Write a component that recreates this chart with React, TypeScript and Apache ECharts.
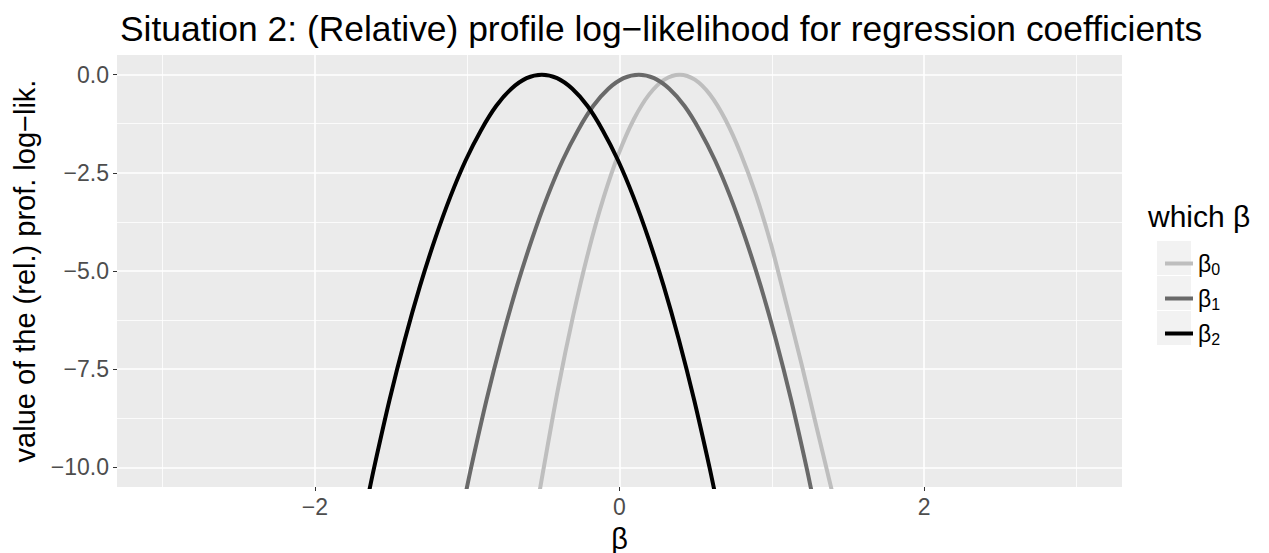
import React, { useEffect, useRef } from 'react';
import * as echarts from 'echarts';

// ---- data ----
const seriesNames = ['β0', 'β1', 'β2'];
const seriesColors = ['#BEBEBE', '#696969', '#000000'];

// β0 profile (light grey)
const beta0X = [-0.535, -0.505, -0.405, -0.305, -0.205, -0.105, -0.005, 0.095, 0.195, 0.295, 0.395, 0.495, 0.595, 0.695, 0.795, 0.895, 0.995, 1.095, 1.195, 1.295, 1.395];
const beta0Y = [-10.85, -10.17, -8.03, -6.15, -4.52, -3.14, -2.01, -1.13, -0.502, -0.126, 0, -0.128, -0.512, -1.143, -2.0, -3.05, -4.32, -5.83, -7.36, -8.99, -10.6];

// β1 profile (dark grey)
const beta1X = [-1.013, -0.973, -0.873, -0.773, -0.673, -0.573, -0.473, -0.373, -0.273, -0.173, -0.073, 0.027, 0.127, 0.227, 0.327, 0.427, 0.527, 0.627, 0.727, 0.827, 0.927, 1.027, 1.127, 1.227, 1.267];
const beta1Y = [-10.72, -9.98, -8.28, -6.75, -5.38, -4.17, -3.10, -2.18, -1.42, -0.80, -0.36, -0.09, 0, -0.09, -0.36, -0.80, -1.42, -2.18, -3.10, -4.17, -5.38, -6.75, -8.28, -9.98, -10.72];

// β2 profile (black)
const beta2X = [-1.65, -1.61, -1.51, -1.41, -1.31, -1.21, -1.11, -1.01, -0.91, -0.81, -0.71, -0.61, -0.51, -0.41, -0.31, -0.21, -0.11, -0.01, 0.09, 0.19, 0.29, 0.39, 0.49, 0.59, 0.63];
const beta2Y = [-10.72, -9.98, -8.28, -6.75, -5.38, -4.17, -3.10, -2.18, -1.42, -0.80, -0.36, -0.09, 0, -0.09, -0.36, -0.80, -1.42, -2.18, -3.10, -4.17, -5.38, -6.75, -8.28, -9.98, -10.72];

const xMajorTicks = [-2, 0, 2];
const xMinorTicks = [-3, -1, 1, 3];
const yMajorTicks = [-10, -7.5, -5, -2.5, 0];
const yMinorTicks = [-8.75, -6.25, -3.75, -1.25];

const titleText = 'Situation 2: (Relative) profile log\u2212likelihood for regression coefficients';
const yName = 'value of the (rel.) prof. log\u2212lik.';
const xName = 'β';
const legendTitle = 'which β';

const FONT = '"Liberation Sans", Arial, Helvetica, sans-serif';
const minus = (s: string) => s.replace('-', '\u2212');

export default function App() {
  const ref = useRef<HTMLDivElement>(null);
  useEffect(() => {
    if (!ref.current) return;
    const chart = echarts.init(ref.current, null, { renderer: 'svg' });
    const xs = [beta0X, beta1X, beta2X];
    const ys = [beta0Y, beta1Y, beta2Y];
    const series: any[] = seriesNames.map((name, i) => ({
      name,
      type: 'line',
      xAxisIndex: 0,
      yAxisIndex: 0,
      data: xs[i].map((x, j) => [x, ys[i][j]]),
      showSymbol: false,
      symbol: 'none',
      smooth: 0.3,
      clip: true,
      z: 3,
      lineStyle: { color: seriesColors[i], width: 4 },
      itemStyle: { color: seriesColors[i] },
    }));

    const legendTop = 241;
    const keyPitch = 35;

    chart.setOption({
      animation: false,
      backgroundColor: '#FFFFFF',
      textStyle: { fontFamily: FONT },
      title: {
        text: titleText,
        left: 115,
        top: 6,
        textStyle: { fontSize: 35.4, fontWeight: 'normal', color: '#000000', fontFamily: FONT },
      },
      grid: {
        left: 117,
        right: 147,
        top: 55,
        bottom: 66,
        containLabel: false,
        outerBoundsMode: 'none',
        show: true,
        backgroundColor: '#EBEBEB',
        borderWidth: 0,
      },
      xAxis: [
        {
          type: 'value',
          min: -3.3,
          max: 3.3,
          position: 'bottom',
          axisLine: { show: false, onZero: false },
          axisTick: { show: true, customValues: xMajorTicks, length: 4, lineStyle: { color: '#333333', width: 1 } },
          axisLabel: {
            customValues: xMajorTicks,
            formatter: (v: number) => minus(String(v)),
            color: '#4D4D4D',
            fontSize: 23,
            margin: 8,
            fontFamily: FONT,
          },
          splitLine: { show: true, lineStyle: { color: '#FFFFFF', width: 1.6 } },
          name: xName,
          nameLocation: 'middle',
          nameGap: 37,
          nameTextStyle: { fontSize: 29, color: '#000000', fontFamily: FONT },
        },
        {
          type: 'value',
          min: -3.3,
          max: 3.3,
          position: 'bottom',
          axisLine: { show: false, onZero: false },
          axisTick: { show: false, customValues: xMinorTicks },
          axisLabel: { show: false, customValues: xMinorTicks },
          splitLine: { show: true, lineStyle: { color: '#FFFFFF', width: 0.8 } },
        },
      ],
      yAxis: [
        {
          type: 'value',
          min: -10.5,
          max: 0.5,
          position: 'left',
          axisLine: { show: false, onZero: false },
          axisTick: { show: true, customValues: yMajorTicks, length: 4, lineStyle: { color: '#333333', width: 1 } },
          axisLabel: {
            customValues: yMajorTicks,
            formatter: (v: number) => minus(v.toFixed(1)),
            color: '#4D4D4D',
            fontSize: 23,
            margin: 8,
            fontFamily: FONT,
          },
          splitLine: { show: true, lineStyle: { color: '#FFFFFF', width: 1.6 } },
          name: yName,
          nameLocation: 'middle',
          nameGap: 76,
          nameTextStyle: { fontSize: 29, color: '#000000', fontFamily: FONT },
        },
        {
          type: 'value',
          min: -10.5,
          max: 0.5,
          position: 'left',
          axisLine: { show: false, onZero: false },
          axisTick: { show: false, customValues: yMinorTicks },
          axisLabel: { show: false, customValues: yMinorTicks },
          splitLine: { show: true, lineStyle: { color: '#FFFFFF', width: 0.8 } },
        },
      ],
      legend: {
        orient: 'vertical',
        left: 1160,
        top: legendTop,
        itemGap: 0,
        itemWidth: 28,
        itemHeight: 4,
        icon: 'rect',
        data: seriesNames,
        formatter: (name: string) => `{b|β}{s|${name.slice(1)}}`,
        textStyle: {
          color: '#000000',
          fontFamily: FONT,
          lineHeight: keyPitch,
          rich: {
            b: { fontSize: 23, color: '#000000', fontFamily: FONT, lineHeight: keyPitch },
            s: { fontSize: 16, color: '#000000', fontFamily: FONT, padding: [12, 0, 0, 0] },
          },
        },
      },
      graphic: [
        {
          type: 'text',
          left: 1148,
          top: 201,
          style: { text: legendTitle, fontSize: 30, fill: '#000000', fontFamily: FONT },
        },
        ...seriesNames.map((_, i) => ({
          type: 'rect',
          shape: { x: 1157, y: legendTop + i * keyPitch, width: 34, height: keyPitch - 1 },
          style: { fill: '#F2F2F2' },
          z: -10,
          silent: true,
        })),
      ],
      series,
    });
    return () => chart.dispose();
  }, []);
  return <div ref={ref} style={{ position: 'fixed', left: 0, top: 0, width: 1269, height: 553 }} />;
}
